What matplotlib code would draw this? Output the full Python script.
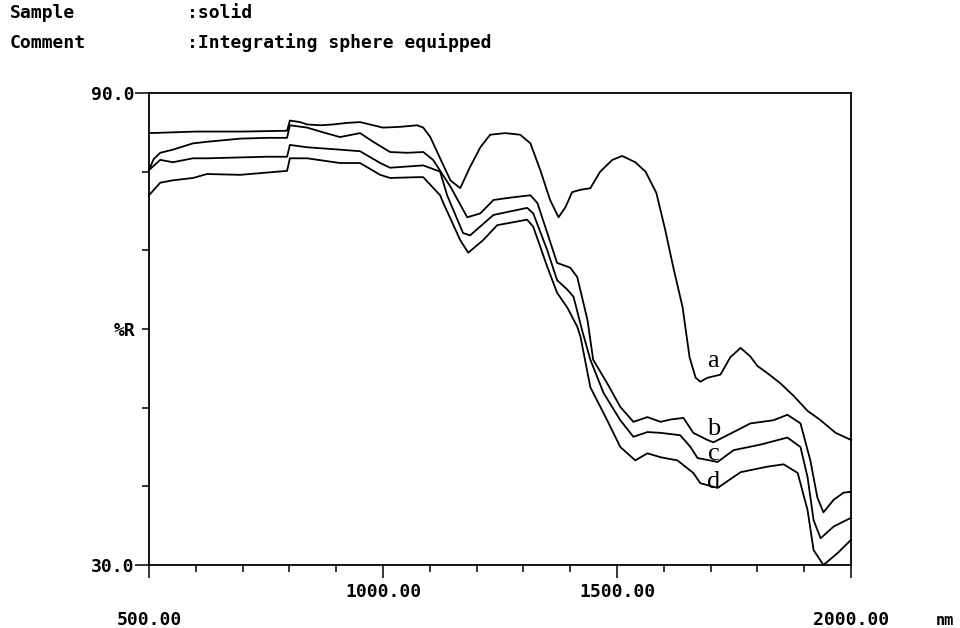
import matplotlib
matplotlib.use("Agg")
import matplotlib.pyplot as plt
from matplotlib.ticker import FixedLocator, FixedFormatter

# wavelength (nm) / reflectance (%R)
a_nm = [500, 600, 700, 795, 801, 823, 838, 866, 893, 923, 951, 979, 1000, 1037, 1073, 1086,
        1101, 1122, 1144, 1165, 1186, 1208, 1229, 1261, 1293, 1315, 1336, 1357, 1375, 1390,
        1404, 1422, 1443, 1464, 1490, 1511, 1539, 1561, 1584, 1603, 1620, 1640, 1655, 1668,
        1678, 1693, 1721, 1742, 1764, 1785, 1800, 1821, 1849, 1879, 1907, 1935, 1967, 2000]
a_R = [84.9, 85.1, 85.1, 85.2, 86.5, 86.3, 86.0, 85.9, 86.0, 86.2, 86.3, 85.9, 85.6, 85.7, 85.9, 85.6,
       84.4, 81.7, 78.9, 77.9, 80.6, 83.1, 84.7, 84.9, 84.7, 83.6, 80.2, 76.4, 74.2, 75.5,
       77.4, 77.7, 77.9, 80.0, 81.5, 82.0, 81.2, 80.0, 77.3, 72.6, 67.9, 62.8, 56.4, 53.8,
       53.3, 53.8, 54.2, 56.4, 57.6, 56.5, 55.3, 54.4, 53.1, 51.4, 49.6, 48.4, 46.8, 45.9]

b_nm = [500, 510, 524, 551, 594, 624, 695, 752, 795, 801, 838, 872, 908, 951, 979, 1015,
        1052, 1086, 1107, 1144, 1180, 1208, 1236, 1272, 1315, 1330, 1351, 1372, 1400, 1415,
        1437, 1449, 1479, 1507, 1535, 1565, 1593, 1615, 1642, 1663, 1693, 1706, 1749, 1785,
        1834, 1864, 1892, 1913, 1928, 1941, 1963, 1984, 2000]
b_R = [80.2, 81.6, 82.4, 82.8, 83.6, 83.8, 84.2, 84.3, 84.3, 85.9, 85.6, 85.0, 84.4, 84.9, 83.8, 82.5,
       82.4, 82.5, 81.5, 78.1, 74.2, 74.7, 76.4, 76.7, 77.0, 76.0, 72.2, 68.4, 67.8, 66.6,
       61.1, 56.1, 53.1, 50.1, 48.2, 48.8, 48.2, 48.5, 48.7, 46.8, 45.9, 45.6, 46.9, 48.0,
       48.4, 49.1, 48.0, 43.3, 38.6, 36.7, 38.3, 39.2, 39.3]

c_nm = [500, 524, 551, 594, 624, 752, 795, 801, 838, 908, 951, 994, 1015, 1086, 1122, 1137,
        1171, 1186, 1236, 1308, 1321, 1351, 1372, 1394, 1407, 1426, 1443, 1471, 1507, 1535,
        1565, 1593, 1635, 1657, 1672, 1715, 1749, 1806, 1864, 1892, 1907, 1920, 1935, 1963, 2000]
c_R = [80.2, 81.5, 81.2, 81.7, 81.7, 81.9, 81.9, 83.4, 83.1, 82.8, 82.6, 81.1, 80.5, 80.8, 80.0, 77.0,
       72.2, 71.9, 74.5, 75.4, 74.7, 70.0, 66.2, 65.0, 64.1, 59.7, 56.1, 51.9, 48.4, 46.3,
       46.9, 46.8, 46.5, 45.0, 43.6, 43.1, 44.6, 45.3, 46.2, 45.0, 41.2, 35.7, 33.4, 34.9, 36.0]

d_nm = [500, 524, 551, 594, 624, 695, 795, 801, 838, 908, 951, 994, 1015, 1073, 1086, 1122,
        1129, 1165, 1182, 1214, 1244, 1308, 1321, 1351, 1372, 1394, 1415, 1422, 1443, 1479,
        1507, 1539, 1565, 1593, 1629, 1663, 1678, 1715, 1764, 1821, 1856, 1886, 1907, 1920,
        1941, 1971, 2000]
d_R = [77.0, 78.6, 78.9, 79.2, 79.7, 79.6, 80.1, 81.7, 81.7, 81.1, 81.1, 79.6, 79.2, 79.3, 79.3, 77.0,
       76.0, 71.3, 69.7, 71.3, 73.2, 73.9, 73.0, 67.9, 64.6, 62.7, 60.3, 59.0, 52.6, 48.4,
       45.0, 43.3, 44.2, 43.7, 43.3, 41.7, 40.4, 39.8, 41.8, 42.5, 42.8, 41.7, 37.0, 31.9,
       30.0, 31.5, 33.2]

curve_names = ["a", "b", "c", "d"]
label_pos = [(1705, 55.2), (1707, 46.5), (1707, 43.3), (1707, 39.8)]

mono = "DejaVu Sans Mono"

fig = plt.figure(figsize=(9.6, 6.28), dpi=100)
ax = fig.add_axes([0.1552, 0.1003, 0.7313, 0.7516])

for xs, ys in [(a_nm, a_R), (b_nm, b_R), (c_nm, c_R), (d_nm, d_R)]:
    ax.plot(xs, ys, color="black", lw=1.3, clip_on=False)

for name, (x, y) in zip(curve_names, label_pos):
    ax.text(x, y, name, family="Liberation Serif", fontsize=19, ha="center", va="baseline")

ax.set_xlim(500, 2000)
ax.set_ylim(30, 90)
for s in ax.spines.values():
    s.set_linewidth(1.3)

# x axis: long ticks every 500, short every 100
ax.xaxis.set_major_locator(FixedLocator([500, 1000, 1500, 2000]))
ax.xaxis.set_minor_locator(FixedLocator(range(600, 2000, 100)))
ax.xaxis.set_major_formatter(FixedFormatter(["", "1000.00", "1500.00", ""]))
ax.tick_params(axis="x", which="major", direction="out", length=9.5, width=1.1, pad=3.5,
               labelsize=13)
ax.tick_params(axis="x", which="minor", direction="out", length=5, width=1.1)
for lab in ax.get_xticklabels():
    lab.set_family(mono)
    lab.set_weight("bold")

xt = ax.get_xaxis_transform()
for v, txt in [(500, "500.00"), (2000, "2000.00")]:
    ax.annotate(txt, xy=(v, 0), xycoords=xt, xytext=(0, -55), textcoords="offset pixels",
                ha="center", va="center", family=mono, weight="bold", fontsize=13)
ax.annotate("nm", xy=(2000, 0), xycoords=xt, xytext=(94, -55), textcoords="offset pixels",
            ha="center", va="center", family=mono, weight="bold", fontsize=11)

# y axis
ax.yaxis.set_major_locator(FixedLocator([30, 90]))
ax.yaxis.set_minor_locator(FixedLocator([40, 50, 60, 70, 80]))
ax.yaxis.set_major_formatter(FixedFormatter(["30.0", "90.0"]))
ax.yaxis.set_minor_formatter(FixedFormatter(["", "", "%R", "", ""]))
ax.tick_params(axis="y", which="major", direction="out", length=10, width=1.1, pad=0.5,
               labelsize=13)
ax.tick_params(axis="y", which="minor", direction="out", length=5, width=1.1, pad=5,
               labelsize=13)
for lab in ax.get_yticklabels() + ax.get_yticklabels(minor=True):
    lab.set_family(mono)
    lab.set_weight("bold")

fig.text(10 / 960, 1 - 13 / 628, "Sample", family=mono, weight="bold", fontsize=13, va="center")
fig.text(187 / 960, 1 - 13 / 628, ":solid", family=mono, weight="bold", fontsize=13, va="center")
fig.text(10 / 960, 1 - 43 / 628, "Comment", family=mono, weight="bold", fontsize=13, va="center")
fig.text(187 / 960, 1 - 43 / 628, ":Integrating sphere equipped", family=mono, weight="bold",
         fontsize=13, va="center")

fig.savefig("out.png", dpi=100)
